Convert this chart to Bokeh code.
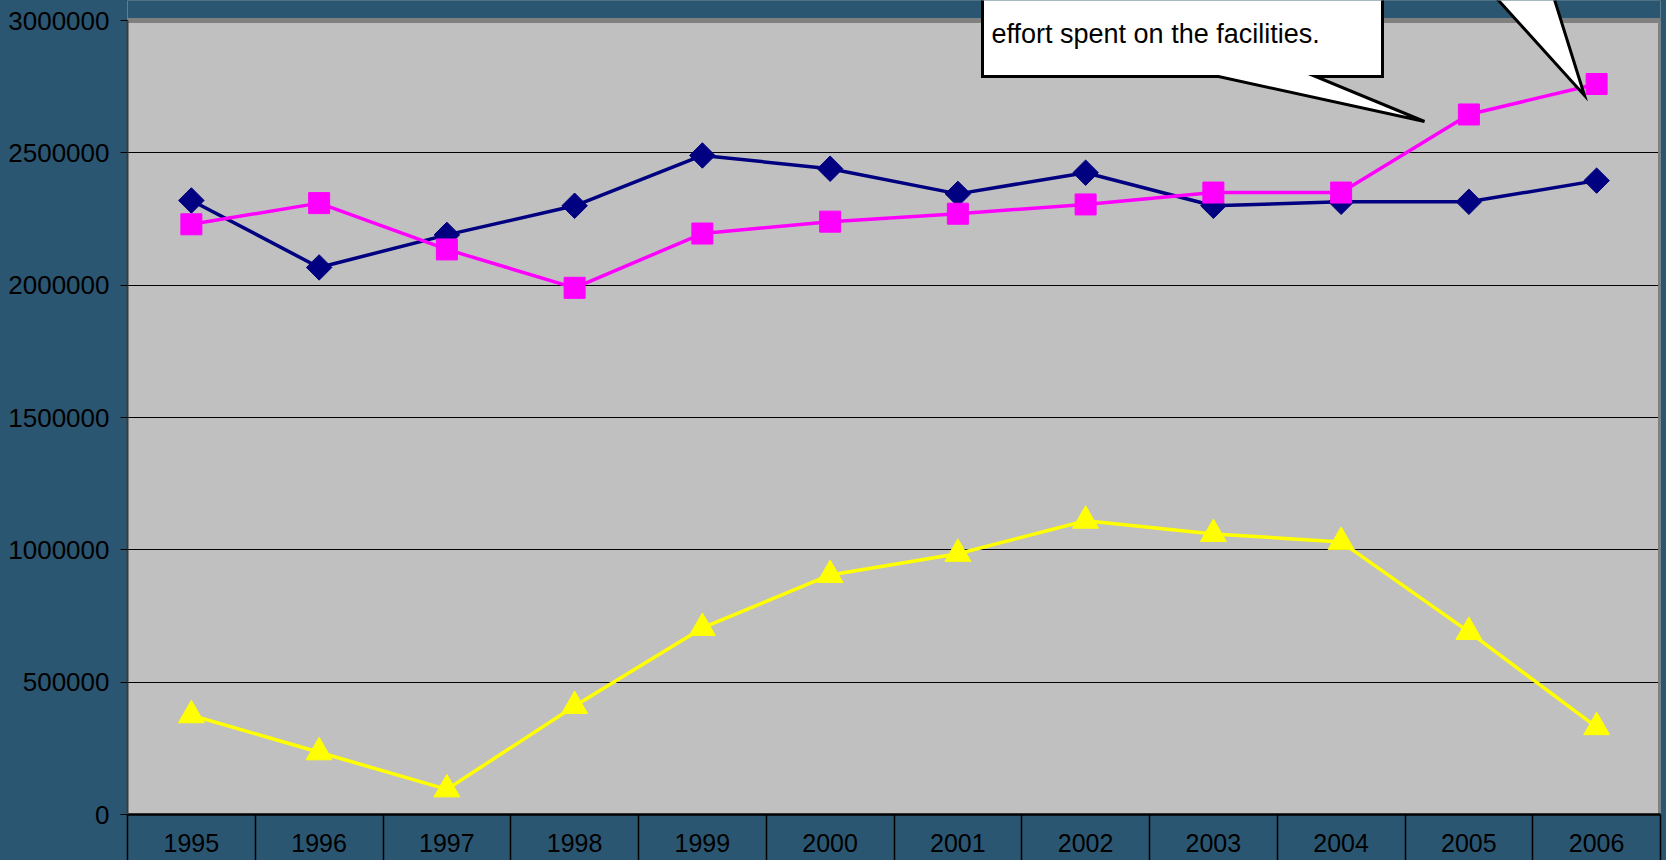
import math
from bokeh.plotting import figure
from bokeh.models import Range1d, FixedTicker, BasicTickFormatter
from bokeh.embed import file_html
from bokeh.resources import INLINE

# ---------------- data ----------------
years = ["1995", "1996", "1997", "1998", "1999", "2000",
         "2001", "2002", "2003", "2004", "2005", "2006"]
series_navy = [2320000, 2067000, 2190000, 2300000, 2490000, 2440000,
               2345000, 2425000, 2300000, 2315000, 2315000, 2395000]
series_magenta = [2230000, 2310000, 2135000, 1990000, 2195000, 2240000,
                  2270000, 2305000, 2350000, 2350000, 2645000, 2760000]
series_yellow = [375000, 235000, 95000, 410000, 705000, 905000,
                 985000, 1110000, 1060000, 1030000, 690000, 330000]
y_ticks = [0, 500000, 1000000, 1500000, 2000000, 2500000, 3000000]
callout_text = "effort spent on the facilities."

# ---------------- layout constants ----------------
W, H = 1666, 860
FL, FR, FB = 127, 1660, 814          # frame left / right / bottom (px)
Y_TOP_PX = 20                        # pixel row of the 3,000,000 gridline
BG = "#2b5672"
FONT = "Liberation Sans"

n = len(years)
x_idx = list(range(n))
x0, x1 = -0.5, n - 0.5
ymax = y_ticks[-1]
px_per_val = (FB - Y_TOP_PX) / ymax
y_end = FB / px_per_val  # frame extends to canvas top


def xd(px):
    return x0 + (px - FL) * (x1 - x0) / (FR - FL)


def yd(py):
    return (FB - py) / px_per_val


p = figure(width=W, height=H, output_backend="svg", toolbar_location=None,
           x_range=Range1d(x0, x1), y_range=Range1d(0, y_end),
           min_border_left=FL, min_border_right=W - FR,
           min_border_top=0, min_border_bottom=H - FB,
           background_fill_color="#c0c0c0", border_fill_color=BG,
           outline_line_color=None)

# strip above the plot area (blue background)
p.quad(left=[x0], right=[x1], bottom=[ymax], top=[y_end * 1.05],
       fill_color=BG, line_color=None)

# grid
p.ygrid.ticker = FixedTicker(ticks=y_ticks)
p.ygrid.grid_line_color = "#000000"
p.ygrid.grid_line_width = 1
p.xgrid.visible = False

# plot-area shadow border (top and right)
p.line([x0, x1, x1], [ymax, ymax, 0], line_color="#808080", line_width=5)

# series
p.line(x_idx, series_navy, line_color="#000080", line_width=3.5)
p.scatter(x_idx, series_navy, marker="square", size=18, angle=math.pi / 4,
          fill_color="#000080", line_color="#000080")
p.line(x_idx, series_magenta, line_color="#ff00ff", line_width=3.5)
p.scatter(x_idx, series_magenta, marker="square", size=21,
          fill_color="#ff00ff", line_color="#ff00ff")
p.line(x_idx, series_yellow, line_color="#ffff00", line_width=3.5)
p.scatter(x_idx, series_yellow, marker="triangle", size=26,
          fill_color="#ffff00", line_color="#ffff00")

# callouts
c1 = [(982, -80), (1382, -80), (1382, 76), (1315, 76), (1424, 121),
      (1218, 76), (982, 76)]
p.patch([xd(a) for a, b in c1], [yd(b) for a, b in c1],
        fill_color="white", line_color="black", line_width=3,
        line_join="miter")
c2 = [(1480, -20), (1584, 95), (1548, -20)]
p.patch([xd(a) for a, b in c2], [yd(b) for a, b in c2],
        fill_color="white", line_color="black", line_width=3,
        line_join="miter")
p.text(x=[xd(991)], y=[yd(33)], text=[callout_text],
       text_font_size="27px", text_color="black",
       text_baseline="alphabetic", text_align="left",
       text_font={"value": FONT})

# y axis
ya = p.yaxis[0]
ya.ticker = FixedTicker(ticks=y_ticks)
ya.formatter = BasicTickFormatter(use_scientific=False)
ya.bounds = (0, ymax)
ya.axis_line_color = "#3a3a3a"
ya.axis_line_width = 2
ya.major_tick_in = 0
ya.major_tick_out = 7
ya.major_tick_line_color = "#000000"
ya.minor_tick_line_color = None
ya.major_label_text_font = FONT
ya.major_label_text_font_size = "26px"
ya.major_label_text_color = "#000000"
ya.major_label_standoff = 11

# x axis: labels centred in category bands, separators at band edges
xa = p.xaxis[0]
xa.ticker = FixedTicker(ticks=x_idx, minor_ticks=[i - 0.5 for i in range(n + 1)])
xa.major_label_overrides = {i: years[i] for i in x_idx}
xa.axis_line_color = "#000000"
xa.axis_line_width = 2.5
xa.major_tick_line_color = None
xa.major_tick_in = 0
xa.major_tick_out = 0
xa.minor_tick_in = 0
xa.minor_tick_out = H - FB
xa.minor_tick_line_color = "#000000"
xa.minor_tick_line_width = 1.5
xa.major_label_text_font = FONT
xa.major_label_text_font_size = "25px"
xa.major_label_text_color = "#000000"
xa.major_label_standoff = -27

html = file_html(p, INLINE, title="chart")
html = html.replace(
    "<head>",
    "<head><style>html,body{margin:0;padding:0;overflow:hidden;background:%s}</style>" % BG,
    1)
open("out.html", "w").write(html)
